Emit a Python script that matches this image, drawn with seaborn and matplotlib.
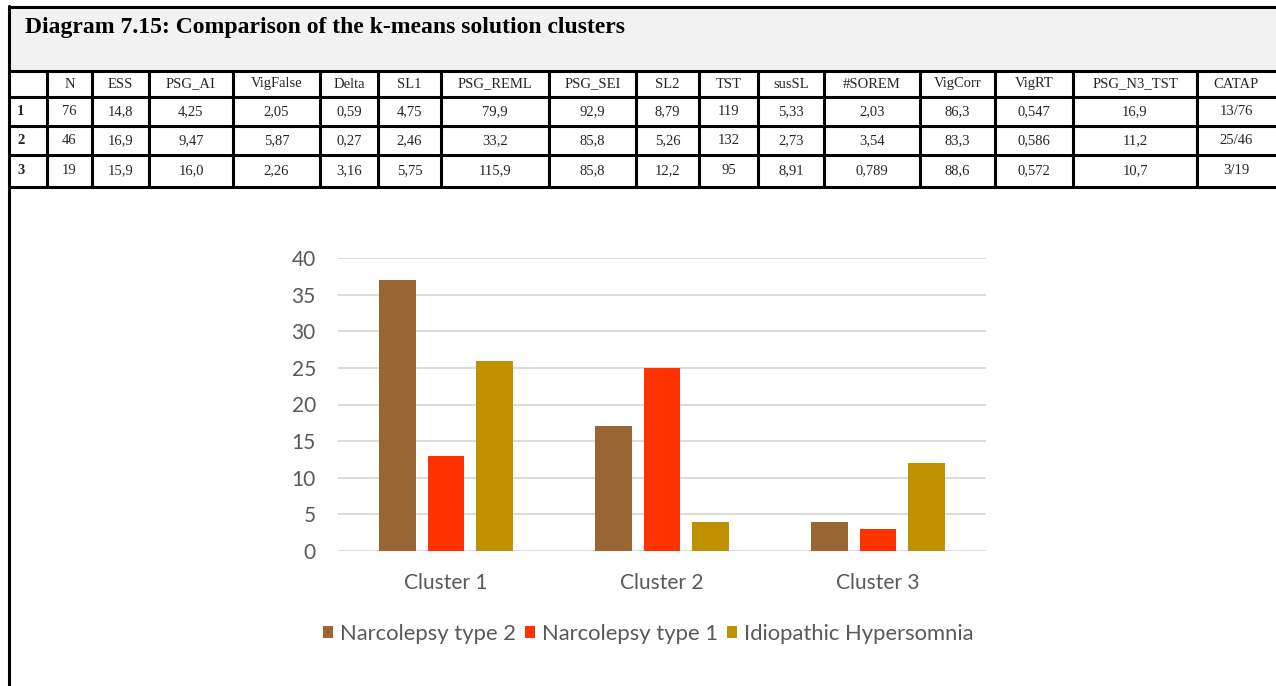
import numpy as np
import pandas as pd
import seaborn as sns
import matplotlib.pyplot as plt
from matplotlib.patches import Rectangle

# Table data
title = "Diagram 7.15: Comparison of the k-means solution clusters"
columns = ["", "N", "ESS", "PSG_AI", "VigFalse", "Delta", "SL1", "PSG_REML", "PSG_SEI",
           "SL2", "TST", "susSL", "#SOREM", "VigCorr", "VigRT", "PSG_N3_TST", "CATAP"]
row_1 = ["1", "76", "14,8", "4,25", "2,05", "0,59", "4,75", "79,9", "92,9",
         "8,79", "119", "5,33", "2,03", "86,3", "0,547", "16,9", "13/76"]
row_2 = ["2", "46", "16,9", "9,47", "5,87", "0,27", "2,46", "33,2", "85,8",
         "5,26", "132", "2,73", "3,54", "83,3", "0,586", "11,2", "25/46"]
row_3 = ["3", "19", "15,9", "16,0", "2,26", "3,16", "5,75", "115,9", "85,8",
         "12,2", "95", "8,91", "0,789", "88,6", "0,572", "10,7", "3/19"]

# Chart data
clusters = ["Cluster 1", "Cluster 2", "Cluster 3"]
groups = ["Narcolepsy type 2", "Narcolepsy type 1", "Idiopathic Hypersomnia"]
nt2 = [37, 17, 4]
nt1 = [13, 25, 3]
ih = [26, 4, 12]
colors = ["#996633", "#FF3300", "#BF9000"]

df = pd.DataFrame({
    "cluster": clusters * 3,
    "group": np.repeat(groups, len(clusters)),
    "count": nt2 + nt1 + ih,
})

sns.set_theme(style="white")
plt.rcParams['font.family'] = ['Lato', 'DejaVu Sans']

W, H = 1276, 686
fig = plt.figure(figsize=(W / 100, H / 100), dpi=100)

# background layer in pixel coordinates for the table
bg = fig.add_axes([0, 0, 1, 1])
bg.set_xlim(0, W)
bg.set_ylim(H, 0)
bg.axis("off")

col_edges = [9, 47, 92, 149, 233, 320, 378, 441, 549, 636, 699, 758, 824, 920, 995, 1073, 1197, W]
row_edges = [71, 97, 126, 155, 187]
lw = 2.2

bg.add_patch(Rectangle((9, 7), W - 9, 64, facecolor="#f2f2f2", edgecolor="none"))
bg.plot([9, W], [7, 7], color="black", lw=lw)
for y in row_edges:
    bg.plot([9, W], [y, y], color="black", lw=lw)
bg.plot([9, 9], [6, H], color="black", lw=lw)
for x in col_edges[1:-1]:
    bg.plot([x, x], [row_edges[0], row_edges[-1]], color="black", lw=lw)

bg.text(25, 33, title, fontsize=17, fontweight="bold", family="Liberation Serif",
        va="baseline", ha="left", color="black")

for r, row in enumerate([columns, row_1, row_2, row_3]):
    yc = (row_edges[r] + row_edges[r + 1]) / 2
    for c, val in enumerate(row):
        if c == 0:
            bg.text(col_edges[0] + 8, yc, val, fontsize=10.5, family="Liberation Serif",
                    fontweight="bold", ha="left", va="center")
        else:
            xc = (col_edges[c] + col_edges[c + 1]) / 2
            bg.text(xc, yc, val, fontsize=10.5, family="Liberation Serif",
                    ha="center", va="center")

# bar chart
ax = fig.add_axes([338 / W, 1 - 551 / H, 648 / W, 293 / H])
sns.barplot(data=df, x="cluster", y="count", hue="group", palette=colors,
            width=0.667, gap=0.23, saturation=1, linewidth=0, ax=ax)
ax.set_xlim(-0.5, 2.5)
ax.set_ylim(0, 40)
ax.set_yticks(range(0, 41, 5))
ax.yaxis.grid(True, color="#d9d9d9", lw=1.3)
ax.set_axisbelow(True)
for s in ax.spines.values():
    s.set_visible(False)
ax.set_xlabel("")
ax.set_ylabel("")
ax.tick_params(axis="both", length=0, labelsize=15, colors="#595959")
ax.tick_params(axis="y", pad=16)
ax.tick_params(axis="x", pad=16)
ax.set_facecolor("none")

handles, labels = ax.get_legend_handles_labels()
ax.get_legend().remove()
fig.legend(handles, labels, loc="center", bbox_to_anchor=(648 / W, 1 - 634 / H), ncol=3,
           frameon=False, fontsize=15.8, labelcolor="#595959", handlelength=0.48,
           handleheight=0.48, handletextpad=0.3, columnspacing=0.4)

fig.savefig("out.png", dpi=100, facecolor="white")
